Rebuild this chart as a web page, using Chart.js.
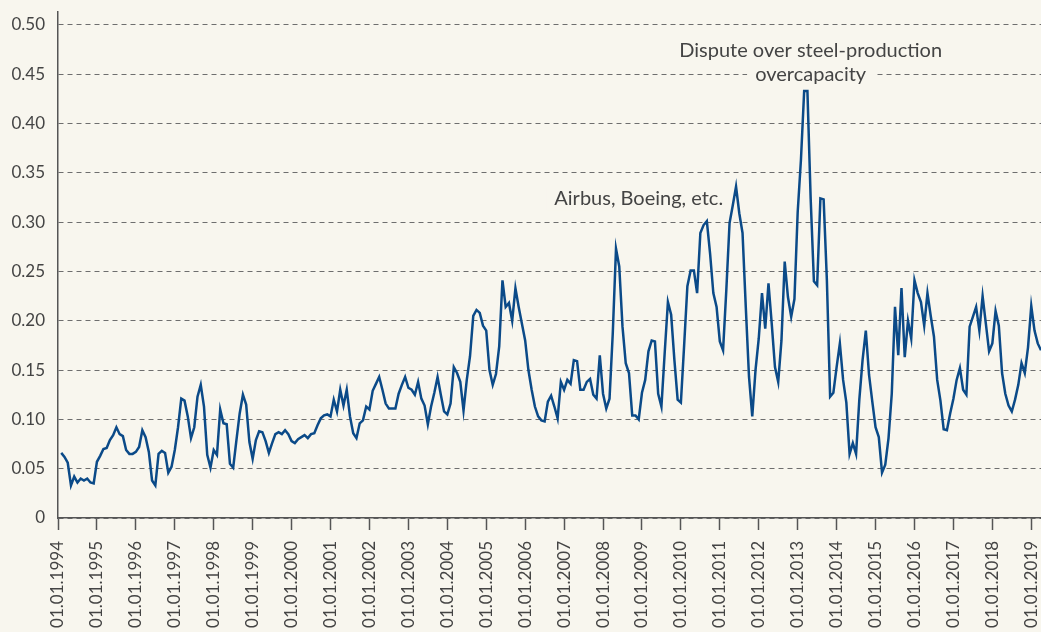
<!DOCTYPE html>
<html>
<head>
<meta charset="utf-8">
<script src="https://cdn.jsdelivr.net/npm/chart.js@4.4.1/dist/chart.umd.min.js"></script>
<style>
  html, body { margin: 0; padding: 0; background: #f8f6ee; overflow: hidden; }
  #wrap { width: 1041px; height: 632px; overflow: hidden; }
</style>
</head>
<body>
<div id="wrap"><canvas id="chart" width="1041" height="632"></canvas></div>
<script>
// monthly series, first value = Jan 1994
const startYear = 1994;
const tariffValues = [
  null, 0.066, 0.062, 0.056, 0.033, 0.042, 0.036, 0.040, 0.038, 0.040, 0.036, 0.035, // 1994
  0.057, 0.063, 0.070, 0.071, 0.079, 0.084, 0.092, 0.085, 0.083, 0.069, 0.065, 0.065, // 1995
  0.067, 0.072, 0.089, 0.082, 0.067, 0.038, 0.033, 0.065, 0.068, 0.066, 0.046, 0.052, // 1996
  0.069, 0.092, 0.121, 0.119, 0.103, 0.081, 0.092, 0.123, 0.135, 0.113, 0.064, 0.051, // 1997
  0.069, 0.064, 0.110, 0.096, 0.095, 0.055, 0.051, 0.079, 0.106, 0.125, 0.115, 0.077, // 1998
  0.060, 0.079, 0.088, 0.087, 0.078, 0.066, 0.076, 0.085, 0.087, 0.085, 0.089, 0.085, // 1999
  0.078, 0.076, 0.080, 0.082, 0.084, 0.081, 0.085, 0.086, 0.094, 0.101, 0.104, 0.105, // 2000
  0.103, 0.120, 0.108, 0.130, 0.114, 0.130, 0.103, 0.086, 0.081, 0.096, 0.099, 0.113, // 2001
  0.110, 0.129, 0.136, 0.143, 0.130, 0.116, 0.111, 0.111, 0.111, 0.126, 0.135, 0.143, // 2002
  0.132, 0.130, 0.125, 0.138, 0.121, 0.114, 0.095, 0.113, 0.127, 0.143, 0.125, 0.108, // 2003
  0.105, 0.116, 0.153, 0.147, 0.138, 0.109, 0.140, 0.164, 0.205, 0.211, 0.208, 0.195, // 2004
  0.190, 0.150, 0.135, 0.146, 0.174, 0.241, 0.214, 0.218, 0.200, 0.233, 0.214, 0.197, // 2005
  0.180, 0.150, 0.130, 0.113, 0.103, 0.099, 0.098, 0.118, 0.124, 0.113, 0.101, 0.138, // 2006
  0.130, 0.140, 0.136, 0.160, 0.159, 0.130, 0.130, 0.138, 0.141, 0.125, 0.121, 0.165, // 2007
  0.126, 0.111, 0.121, 0.187, 0.273, 0.255, 0.194, 0.157, 0.147, 0.104, 0.104, 0.100, // 2008
  0.127, 0.140, 0.169, 0.180, 0.179, 0.126, 0.113, 0.167, 0.219, 0.206, 0.160, 0.120, // 2009
  0.117, 0.175, 0.235, 0.251, 0.251, 0.228, 0.289, 0.297, 0.301, 0.268, 0.228, 0.214, // 2010
  0.179, 0.170, 0.231, 0.299, 0.317, 0.336, 0.309, 0.289, 0.214, 0.143, 0.103, 0.150, // 2011
  0.182, 0.228, 0.192, 0.238, 0.197, 0.153, 0.138, 0.180, 0.260, 0.224, 0.204, 0.222, // 2012
  0.310, 0.363, 0.433, 0.433, 0.324, 0.240, 0.236, 0.324, 0.323, 0.241, 0.123, 0.127, // 2013
  0.153, 0.177, 0.140, 0.117, 0.065, 0.076, 0.065, 0.120, 0.160, 0.190, 0.145, 0.118, // 2014
  0.092, 0.082, 0.046, 0.054, 0.081, 0.126, 0.214, 0.165, 0.233, 0.163, 0.200, 0.182, // 2015
  0.241, 0.228, 0.219, 0.195, 0.228, 0.205, 0.184, 0.140, 0.119, 0.090, 0.089, 0.106, // 2016
  0.121, 0.140, 0.152, 0.130, 0.125, 0.194, 0.204, 0.214, 0.190, 0.225, 0.197, 0.169, // 2017
  0.177, 0.210, 0.195, 0.147, 0.126, 0.114, 0.108, 0.120, 0.135, 0.157, 0.147, 0.173, // 2018
  0.215, 0.190, 0.177, 0.170                                                          // 2019
];
const yTickValues = [0, 0.05, 0.10, 0.15, 0.20, 0.25, 0.30, 0.35, 0.40, 0.45, 0.50];
const noteLines = [
  { text: 'Dispute over steel-production', month: 232, value: 0.467 },
  { text: 'overcapacity', month: 232, value: 0.443 },
  { text: 'Airbus, Boeing, etc.', month: 179, value: 0.3175 }
];

const bgColor = '#f8f6ee';
const textColor = '#444444';
const fontFamily = 'Lato, "Open Sans", sans-serif';

// "01.MM.YYYY" for every month, only January ones end up as ticks
const monthLabels = tariffValues.map((v, i) => {
  const year = startYear + Math.floor(i / 12);
  const month = String(i % 12 + 1).padStart(2, '0');
  return '01.' + month + '.' + year;
});

const notesPlugin = {
  id: 'notes',
  beforeDatasetsDraw(chart) {
    const { ctx, scales } = chart;
    ctx.save();
    ctx.font = '20px ' + fontFamily;
    ctx.textAlign = 'center';
    ctx.textBaseline = 'alphabetic';
    noteLines.forEach((n) => {
      const cx = scales.x.getPixelForValue(n.month);
      const cy = scales.y.getPixelForValue(n.value);
      const w = ctx.measureText(n.text).width;
      ctx.fillStyle = bgColor;
      ctx.fillRect(cx - w / 2 - 8, cy - 17, w + 16, 23);
      ctx.fillStyle = textColor;
      ctx.fillText(n.text, cx, cy);
    });
    ctx.restore();
  }
};

new Chart(document.getElementById('chart'), {
  type: 'line',
  data: {
    labels: monthLabels,
    datasets: [{
      data: tariffValues,
      borderColor: '#0b4a88',
      borderWidth: 2.5,
      pointRadius: 0,
      tension: 0,
      fill: false
    }]
  },
  options: {
    responsive: false,
    animation: false,
    layout: { padding: { top: 12, left: 0, right: 0, bottom: 0 } },
    plugins: {
      legend: { display: false },
      tooltip: { enabled: false }
    },
    scales: {
      x: {
        type: 'category',
        offset: false,
        grid: { drawOnChartArea: false, drawTicks: true, tickLength: 12, tickColor: '#555555', tickWidth: 1.5 },
        border: { color: '#555555', width: 1.5 },
        afterBuildTicks: (scale) => {
          scale.ticks = scale.ticks.filter((t) => t.value % 12 === 0);
        },
        ticks: {
          autoSkip: false,
          maxRotation: 90,
          minRotation: 90,
          padding: 11,
          color: textColor,
          font: { family: fontFamily, size: 17 }
        },
        afterFit: (scale) => {
          scale.height = 114;
          scale.paddingLeft = 0;
          scale.paddingRight = 0;
        }
      },
      y: {
        min: 0,
        max: 0.513,
        grid: { color: '#6e6e6e', lineWidth: 1, drawTicks: false },
        border: { color: '#555555', width: 1.5, dash: [5, 4] },
        afterBuildTicks: (scale) => {
          scale.ticks = yTickValues.map((v) => ({ value: v }));
        },
        ticks: {
          padding: 13,
          color: textColor,
          font: { family: fontFamily, size: 17 },
          callback: (v) => (v === 0 ? '0' : v.toFixed(2))
        },
        afterFit: (scale) => {
          scale.width = 58;
          scale.paddingTop = 0;
          scale.paddingBottom = 0;
        }
      }
    }
  },
  plugins: [notesPlugin]
});
</script>
</body>
</html>
